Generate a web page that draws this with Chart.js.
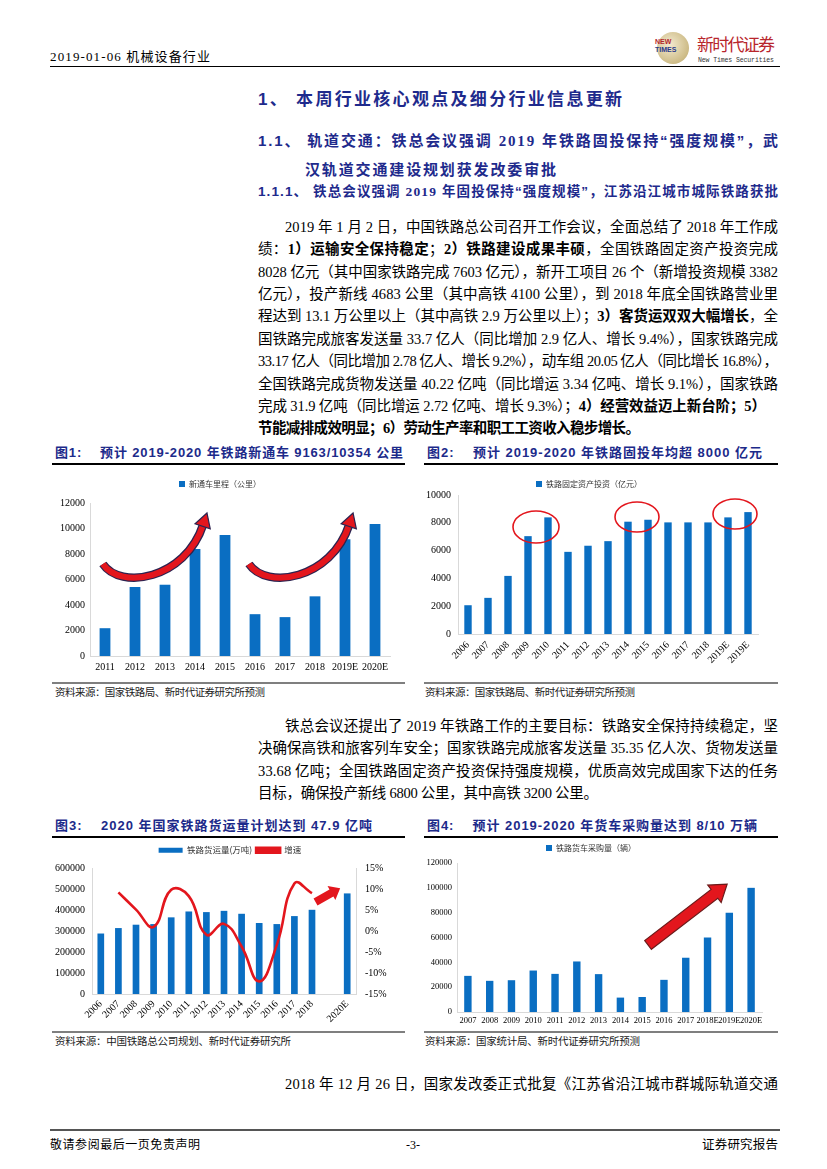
<!DOCTYPE html>
<html>
<head>
<meta charset="utf-8">
<script src="https://cdn.jsdelivr.net/npm/chart.js@4"></script>
<style>
  body { margin: 0; background: #fff; }
  #page { position: relative; width: 827px; height: 1169px; overflow: hidden; background: #fff;
    font-family: "Liberation Serif", "Noto Sans CJK SC", serif; color: #000; }
  .ln { position: absolute; white-space: nowrap; height: 20px; line-height: 20px; }
  .t { font-size: 14.5px; }
  .t b { font-weight: bold; }
  .h { font-family: "Liberation Sans", "Noto Sans CJK SC", sans-serif; font-weight: bold; color: #1E2A8C; }
  .h .s { font-family: "Liberation Serif", "Noto Sans CJK SC", serif; }
  .fig { font-family: "Liberation Sans", "Noto Sans CJK SC", sans-serif; font-weight: bold; color: #1C2A8A; font-size: 13px; }
  .src { font-size: 10.5px; color: #222; }
  .rule { position: absolute; }
  .box { position: absolute; }
</style>
</head>
<body>
<div id="page">

  <!-- header -->
  <div class="ln" style="left:50px;top:47px;font-size:13px;" data-w="160">2019-01-06 机械设备行业</div>
  <div class="rule" style="left:50px;top:66px;width:730px;height:1px;background:#000;"></div>
  <div class="box" style="left:657px;top:32px;width:32px;height:32px;border-radius:50%;background:radial-gradient(circle at 40% 40%,#f3ead0,#cdbb86 70%,#a99a66);"></div>
  <div class="box" style="left:655px;top:38px;font:bold 7px 'Liberation Sans';color:#B3262B;line-height:8px;">NEW<br><span style="color:#2a3a8a">TIMES</span></div>
  <div class="ln" style="left:697px;top:34px;font-size:17px;color:#B8262C;font-family:'Noto Sans CJK SC';" data-w="78">新时代证券</div>
  <div class="ln" style="left:698px;top:51px;font-size:6.5px;color:#333;font-family:'Liberation Mono';" data-w="76">New Times Securities</div>

  <!-- headings -->
  <div class="ln h" style="left:258px;top:90px;font-size:17px;" data-w="364">1、 本周行业核心观点及细分行业信息更新</div>
  <div class="ln h" style="left:258px;top:131px;font-size:15px;" data-w="520">1.1、 轨道交通：铁总会议强调 <span class="s">2019</span> 年铁路固投保持“强度规模”，武</div>
  <div class="ln h" style="left:305px;top:160px;font-size:15px;" data-w="251">汉轨道交通建设规划获发改委审批</div>
  <div class="ln h" style="left:258px;top:182px;font-size:13.5px;" data-w="520">1.1.1、 铁总会议强调 <span class="s">2019</span> 年固投保持“强度规模”，江苏沿江城市城际铁路获批</div>

  <!-- paragraph 1 -->
  <div class="ln t" style="left:285px;top:217px;" data-w="493">2019 年 1 月 2 日，中国铁路总公司召开工作会议，全面总结了 2018 年工作成</div>
  <div class="ln t" style="left:258px;top:239.4px;" data-w="520">绩：<b>1）运输安全保持稳定</b>；<b>2）铁路建设成果丰硕</b>，全国铁路固定资产投资完成</div>
  <div class="ln t" style="left:258px;top:261.7px;" data-w="520">8028 亿元（其中国家铁路完成 7603 亿元），新开工项目 26 个（新增投资规模 3382</div>
  <div class="ln t" style="left:258px;top:284px;" data-w="520">亿元），投产新线 4683 公里（其中高铁 4100 公里），到 2018 年底全国铁路营业里</div>
  <div class="ln t" style="left:258px;top:306.4px;" data-w="520">程达到 13.1 万公里以上（其中高铁 2.9 万公里以上）；<b>3）客货运双双大幅增长</b>，全</div>
  <div class="ln t" style="left:258px;top:328.8px;" data-w="520">国铁路完成旅客发送量 33.7 亿人（同比增加 2.9 亿人、增长 9.4%），国家铁路完成</div>
  <div class="ln t" style="left:258px;top:351px;" data-w="520">33.17 亿人（同比增加 2.78 亿人、增长 9.2%），动车组 20.05 亿人（同比增长 16.8%），</div>
  <div class="ln t" style="left:258px;top:373.5px;" data-w="520">全国铁路完成货物发送量 40.22 亿吨（同比增运 3.34 亿吨、增长 9.1%），国家铁路</div>
  <div class="ln t" style="left:258px;top:395.8px;" data-w="508">完成 31.9 亿吨（同比增运 2.72 亿吨、增长 9.3%）；<b>4）经营效益迈上新台阶；5）</b></div>
  <div class="ln t" style="left:258px;top:418.2px;" data-w="382"><b>节能减排成效明显；6）劳动生产率和职工工资收入稳步增长。</b></div>

  <!-- figure 1 / 2 titles -->
  <div class="ln fig" style="left:55px;top:443px;" data-w="348">图1:&nbsp;&nbsp;&nbsp; 预计 2019-2020 年铁路新通车 9163/10354 公里</div>
  <div class="rule" style="left:52px;top:463px;width:353px;height:1.5px;background:#000;"></div>
  <div class="ln fig" style="left:427px;top:443px;" data-w="335">图2:&nbsp;&nbsp;&nbsp; 预计 2019-2020 年铁路固投年均超 8000 亿元</div>
  <div class="rule" style="left:424px;top:463px;width:354px;height:1.5px;background:#000;"></div>

  <div class="box" style="left:50px;top:468px;width:360px;height:214px;"><canvas id="c1"></canvas></div>
  <div class="box" style="left:420px;top:468px;width:360px;height:210px;"><canvas id="c2"></canvas></div>

  <div class="rule" style="left:52px;top:682px;width:353px;height:2px;background:#7f7f7f;"></div>
  <div class="rule" style="left:424px;top:682px;width:354px;height:2px;background:#7f7f7f;"></div>
  <div class="ln src" style="left:55px;top:683px;" data-w="210">资料来源：国家铁路局、新时代证券研究所预测</div>
  <div class="ln src" style="left:425px;top:683px;" data-w="210">资料来源：国家铁路局、新时代证券研究所预测</div>

  <!-- paragraph 2 -->
  <div class="ln t" style="left:285px;top:715.5px;" data-w="493">铁总会议还提出了 2019 年铁路工作的主要目标：铁路安全保持持续稳定，坚</div>
  <div class="ln t" style="left:258px;top:738px;" data-w="520">决确保高铁和旅客列车安全；国家铁路完成旅客发送量 35.35 亿人次、货物发送量</div>
  <div class="ln t" style="left:258px;top:760.5px;" data-w="520">33.68 亿吨；全国铁路固定资产投资保持强度规模，优质高效完成国家下达的任务</div>
  <div class="ln t" style="left:258px;top:783px;" data-w="340">目标，确保投产新线 6800 公里，其中高铁 3200 公里。</div>

  <!-- figure 3 / 4 titles -->
  <div class="ln fig" style="left:55px;top:816px;" data-w="317">图3:&nbsp;&nbsp;&nbsp; 2020 年国家铁路货运量计划达到 47.9 亿吨</div>
  <div class="rule" style="left:52px;top:836px;width:353px;height:1.5px;background:#000;"></div>
  <div class="ln fig" style="left:427px;top:816px;" data-w="330">图4:&nbsp;&nbsp;&nbsp; 预计 2019-2020 年货车采购量达到 8/10 万辆</div>
  <div class="rule" style="left:424px;top:836px;width:354px;height:1.5px;background:#000;"></div>

  <div class="box" style="left:50px;top:838px;width:360px;height:192px;"><canvas id="c3"></canvas></div>
  <div class="box" style="left:420px;top:838px;width:360px;height:192px;"><canvas id="c4"></canvas></div>

  <div class="rule" style="left:52px;top:1031px;width:353px;height:2px;background:#7f7f7f;"></div>
  <div class="rule" style="left:424px;top:1031px;width:354px;height:2px;background:#7f7f7f;"></div>
  <div class="ln src" style="left:55px;top:1032px;" data-w="236">资料来源：中国铁路总公司规划、新时代证券研究所</div>
  <div class="ln src" style="left:425px;top:1032px;" data-w="215">资料来源：国家统计局、新时代证券研究所预测</div>

  <div class="ln t" style="left:285px;top:1074px;" data-w="493">2018 年 12 月 26 日，国家发改委正式批复《江苏省沿江城市群城际轨道交通</div>

  <!-- footer -->
  <div class="rule" style="left:50px;top:1129px;width:730px;height:2px;background:#555;"></div>
  <div class="ln" style="left:50px;top:1135px;font-size:12px;" data-w="150">敬请参阅最后一页免责声明</div>
  <div class="ln" style="left:406px;top:1135px;font-size:12px;">-3-</div>
  <div class="ln" style="left:702px;top:1135px;font-size:12.5px;" data-w="76">证券研究报告</div>
</div>

<script>
// 图1 新通车里程（公里）
const years1 = ['2011', '2012', '2013', '2014', '2015', '2016', '2017', '2018', '2019E', '2020E'];
const newMileage = [2180, 5410, 5590, 8400, 9500, 3280, 3050, 4680, 9163, 10354];

// 图2 铁路固定资产投资（亿元）
const years2 = ['2006', '2007', '2008', '2009', '2010', '2011', '2012', '2013', '2014', '2015', '2016', '2017', '2018', '2019E', '2019E'];
const investment = [2070, 2600, 4180, 7040, 8390, 5910, 6350, 6680, 8080, 8220, 8030, 8030, 8028, 8390, 8770];

// 图3 铁路货运量（万吨）与增速
const years3 = ['2006', '2007', '2008', '2009', '2010', '2011', '2012', '2013', '2014', '2015', '2016', '2017', '2018', '', '2020E'];
const freight = [288000, 314000, 330000, 333000, 365000, 393000, 390000, 396000, 382000, 338000, 333000, 371000, 401000, null, 479000];
const growth = [null, 9.2, 5.1, 1.0, 9.8, 8.3, -0.9, 1.7, -3.7, -12.0, -3.3, 11.3, 9.0, null, null];

// 图4 铁路货车采购量（辆）
const years4 = ['2007', '2008', '2009', '2010', '2011', '2012', '2013', '2014', '2015', '2016', '2017', '2018E', '2019E', '2020E'];
const wagons = [29100, 25100, 25600, 33400, 30700, 40700, 30500, 11600, 12100, 25900, 43700, 60000, 80000, 100000];

const BLUE = '#0A6EC2';
const RED = '#E3161D';
const serif = 'Liberation Serif';
const axisGray = '#D9D9D9';
const plain = v => String(v);
const noGrid = { display: false, drawTicks: false };

Chart.defaults.animation = false;
Chart.defaults.responsive = true;
Chart.defaults.maintainAspectRatio = false;
Chart.defaults.font.family = '"Liberation Serif", "Noto Sans CJK SC"';
Chart.defaults.color = '#000';

// fixed gap under the legend
function legendGap(gap) {
  return {
    id: 'legendGap',
    beforeInit(chart) {
      const fit = chart.legend.fit;
      chart.legend.fit = function () {
        fit.bind(chart.legend)();
        this.height += gap;
      };
    }
  };
}

// red arrows / circles drawn over the bars
const deco = {
  id: 'deco',
  afterDatasetsDraw(chart, args, opts) {
    const ctx = chart.ctx;
    const P = p => [chart.scales.x.getPixelForValue(p[0]), chart.scales[p[2] || 'y'].getPixelForValue(p[1])];
    ctx.save();
    (opts.rings || []).forEach(r => {
      const c = P(r.c);
      ctx.beginPath();
      ctx.ellipse(c[0], c[1], r.rx, r.ry, 0, 0, Math.PI * 2);
      ctx.strokeStyle = RED;
      ctx.lineWidth = 1.6;
      ctx.stroke();
    });
    (opts.curves || []).forEach(cv => {
      const p = cv.pts.map(P);
      const dx = p[3][0] - p[2][0], dy = p[3][1] - p[2][1];
      const len = Math.hypot(dx, dy), ux = dx / len, uy = dy / len;
      const bx = p[3][0] - ux * cv.hl, by = p[3][1] - uy * cv.hl;
      const path = () => {
        ctx.beginPath();
        ctx.moveTo(p[0][0], p[0][1]);
        ctx.bezierCurveTo(p[1][0], p[1][1], p[2][0], p[2][1], bx + ux * 2, by + uy * 2);
      };
      ctx.lineCap = 'butt';
      path(); ctx.strokeStyle = '#2B2350'; ctx.lineWidth = cv.w + 2.5; ctx.stroke();
      path(); ctx.strokeStyle = RED; ctx.lineWidth = cv.w; ctx.stroke();
      const nx = -uy, ny = ux;
      ctx.beginPath();
      ctx.moveTo(p[3][0], p[3][1]);
      ctx.lineTo(bx + nx * cv.hw / 2, by + ny * cv.hw / 2);
      ctx.lineTo(bx - nx * cv.hw / 2, by - ny * cv.hw / 2);
      ctx.closePath();
      ctx.fillStyle = RED; ctx.fill();
      ctx.strokeStyle = '#2B2350'; ctx.lineWidth = 1.2; ctx.stroke();
    });
    (opts.blocks || []).forEach(b => {
      const a = P(b.from), e = P(b.to);
      const dx = e[0] - a[0], dy = e[1] - a[1];
      const len = Math.hypot(dx, dy), ux = dx / len, uy = dy / len, nx = -uy, ny = ux;
      const hx = e[0] - ux * b.hl, hy = e[1] - uy * b.hl;
      ctx.beginPath();
      ctx.moveTo(a[0] + nx * b.sw / 2, a[1] + ny * b.sw / 2);
      ctx.lineTo(hx + nx * b.sw / 2, hy + ny * b.sw / 2);
      ctx.lineTo(hx + nx * b.hw / 2, hy + ny * b.hw / 2);
      ctx.lineTo(e[0], e[1]);
      ctx.lineTo(hx - nx * b.hw / 2, hy - ny * b.hw / 2);
      ctx.lineTo(hx - nx * b.sw / 2, hy - ny * b.sw / 2);
      ctx.lineTo(a[0] - nx * b.sw / 2, a[1] - ny * b.sw / 2);
      ctx.closePath();
      ctx.fillStyle = RED; ctx.fill();
      if (b.edge) { ctx.strokeStyle = b.edge; ctx.lineWidth = 1.2; ctx.stroke(); }
    });
    ctx.restore();
  }
};
Chart.register(deco);

function legendOpts(size, box) {
  return {
    display: true,
    position: 'top',
    labels: {
      boxWidth: box[0], boxHeight: box[1], padding: 4,
      font: { family: '"Noto Sans CJK SC"', size: size }, color: '#333',
      sort: (a, b) => a.datasetIndex - b.datasetIndex
    }
  };
}

// 图1
new Chart(document.getElementById('c1'), {
  type: 'bar',
  data: {
    labels: years1,
    datasets: [{ label: '新通车里程（公里）', data: newMileage, backgroundColor: BLUE, barPercentage: 0.36, categoryPercentage: 1 }]
  },
  options: {
    layout: { padding: { top: 8, right: 20, left: 0, bottom: 0 } },
    plugins: {
      legend: legendOpts(8, [6, 6]),
      tooltip: { enabled: false },
      deco: {
        curves: [
          { pts: [[-0.07, 7215], [0.5, 5180], [2.67, 5960], [3.4, 11215]], w: 6, hl: 14, hw: 16 },
          { pts: [[4.8, 7215], [5.37, 5180], [7.54, 5960], [8.27, 11215]], w: 6, hl: 14, hw: 16 }
        ]
      }
    },
    scales: {
      x: {
        grid: noGrid, border: { display: true, color: axisGray },
        ticks: { font: { family: serif, size: 10 }, padding: 5, maxRotation: 0, autoSkip: false },
        afterFit: s => { s.height = 26; }
      },
      y: {
        min: 0, max: 12000,
        grid: noGrid, border: { display: true, color: axisGray },
        ticks: { stepSize: 2000, font: { family: serif, size: 10 }, padding: 5, callback: plain },
        afterFit: s => { s.width = 40; }
      }
    }
  },
  plugins: [legendGap(5)]
});

// 图2
new Chart(document.getElementById('c2'), {
  type: 'bar',
  data: {
    labels: years2,
    datasets: [{ label: '铁路固定资产投资（亿元）', data: investment, backgroundColor: BLUE, barPercentage: 0.37, categoryPercentage: 1 }]
  },
  options: {
    layout: { padding: { top: 8, right: 22, left: 0, bottom: 0 } },
    plugins: {
      legend: legendOpts(8, [6, 6]),
      tooltip: { enabled: false },
      deco: {
        rings: [
          { c: [3.4, 7700], rx: 23, ry: 16 },
          { c: [8.45, 8420], rx: 22, ry: 15 },
          { c: [13.35, 8630], rx: 22, ry: 15 }
        ]
      }
    },
    scales: {
      x: {
        grid: noGrid, border: { display: true, color: axisGray },
        ticks: { font: { family: serif, size: 10 }, padding: 5, minRotation: 45, maxRotation: 45, autoSkip: false },
        afterFit: s => { s.height = 44; }
      },
      y: {
        min: 0, max: 10000,
        grid: noGrid, border: { display: true, color: axisGray },
        ticks: { stepSize: 1000, font: { family: serif, size: 10 }, padding: 7, callback: plain },
        afterFit: s => { s.width = 38; }
      }
    }
  },
  plugins: [legendGap(-3)]
});

// 图3
new Chart(document.getElementById('c3'), {
  type: 'bar',
  data: {
    labels: years3,
    datasets: [
      { label: '铁路货运量(万吨)', data: freight, backgroundColor: BLUE, barPercentage: 0.38, categoryPercentage: 1, yAxisID: 'y', order: 2 },
      { label: '增速', type: 'line', data: growth, borderColor: RED, backgroundColor: RED, borderWidth: 2.6,
        pointRadius: 0, tension: 0.45, spanGaps: false, yAxisID: 'y1', order: 1 }
    ]
  },
  options: {
    layout: { padding: { top: 4, right: 0, left: 0, bottom: 0 } },
    plugins: {
      legend: legendOpts(8.5, [24, 5]),
      tooltip: { enabled: false },
      deco: {
        blocks: [{ from: [12.2, 6.9, 'y1'], to: [13.6, 10.2, 'y1'], sw: 8, hw: 16, hl: 10 }]
      }
    },
    scales: {
      x: {
        grid: noGrid, border: { display: true, color: axisGray },
        ticks: { font: { family: serif, size: 10 }, padding: 4, minRotation: 45, maxRotation: 45, autoSkip: false },
        afterFit: s => { s.height = 36; }
      },
      y: {
        min: 0, max: 600000,
        grid: noGrid, border: { display: true, color: axisGray },
        ticks: { stepSize: 100000, font: { family: serif, size: 10 }, padding: 7, callback: plain },
        afterFit: s => { s.width = 42; }
      },
      y1: {
        position: 'right', min: -15, max: 15,
        grid: noGrid, border: { display: true, color: axisGray },
        ticks: { stepSize: 5, font: { family: serif, size: 10 }, padding: 9, callback: v => v + '%' },
        afterFit: s => { s.width = 54; }
      }
    }
  },
  plugins: [legendGap(3.5)]
});

// 图4
new Chart(document.getElementById('c4'), {
  type: 'bar',
  data: {
    labels: years4,
    datasets: [{ label: '铁路货车采购量（辆）', data: wagons, backgroundColor: BLUE, barPercentage: 0.34, categoryPercentage: 1 }]
  },
  options: {
    layout: { padding: { top: 2, right: 18, left: 0, bottom: 0 } },
    plugins: {
      legend: legendOpts(8, [6, 6]),
      tooltip: { enabled: false },
      deco: {
        blocks: [{ from: [8.27, 54000], to: [11.9, 103000], sw: 11, hw: 22, hl: 16, edge: '#6b1a1a' }]
      }
    },
    scales: {
      x: {
        grid: noGrid, border: { display: true, color: axisGray },
        ticks: { font: { family: serif, size: 8.5 }, padding: 4, maxRotation: 0, autoSkip: false },
        afterFit: s => { s.height = 18; }
      },
      y: {
        min: 0, max: 120000,
        grid: noGrid, border: { display: true, color: axisGray },
        ticks: { stepSize: 20000, font: { family: serif, size: 8.5 }, padding: 5, callback: plain },
        afterFit: s => { s.width = 37; }
      }
    }
  },
  plugins: [legendGap(1)]
});

// stretch each text line to its measured width
function fitLines() {
  document.querySelectorAll('[data-w]').forEach(el => {
    el.style.letterSpacing = '0px';
    const nat = el.getBoundingClientRect().width;
    const n = [...el.textContent].length;
    el.style.letterSpacing = ((+el.dataset.w - nat) / (n - 1)) + 'px';
  });
}
fitLines();
document.fonts.ready.then(fitLines);
</script>
</body>
</html>
